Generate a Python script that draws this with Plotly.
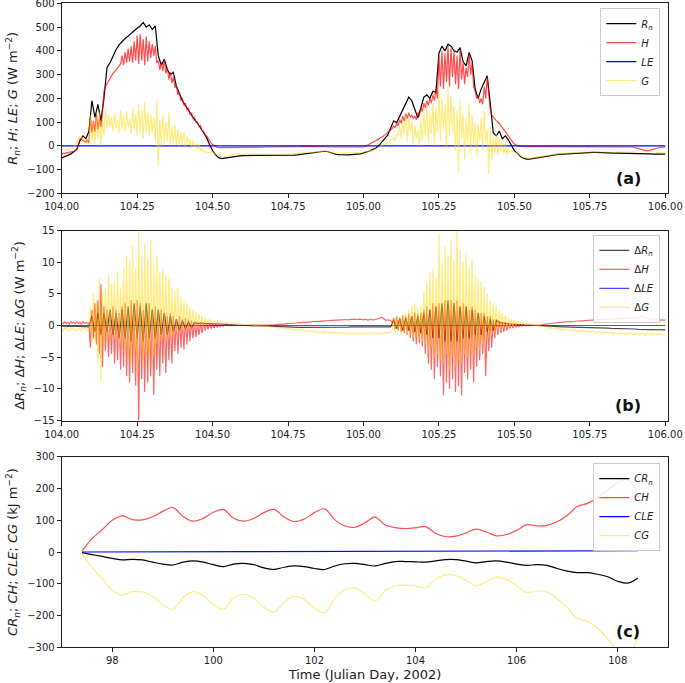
import numpy as np
import plotly.graph_objects as go

# ---------------- sampling grids ----------------
t_fine = np.round(104.0 + 0.005 * np.arange(401), 3)     # panels a/b, H, G, dH, dG
t_coarse = np.round(104.0 + 0.01 * np.arange(201), 2)    # panels a/b, Rn, dRn
t_cum = np.round(97.4 + 0.2 * np.arange(56), 1)          # panel c

# ---------------- panel (a): fluxes, W m-2 ----------------
Rn = [
    -50, -45, -40, -35, -25, -15, 20, 42, 30, 60,
    190, 120, 175, 105, 200, 330, 350, 378, 405, 425,
    440, 452, 462, 475, 485, 495, 505, 520, 500, 510,
    490, 505, 380, 340, 365, 320, 300, 310, 250, 220,
    190, 170, 150, 125, 110, 95, 75, 55, 35, 5,
    -20, -38, -50, -54, -52, -48, -45, -43, -42, -42,
    -41, -41, -40, -41, -42, -42, -41, -40, -40, -40,
    -41, -42, -42, -41, -40, -40, -40, -39, -38, -36,
    -34, -32, -30, -29, -28, -27, -25, -23, -24, -28,
    -33, -36, -37, -38, -38, -38, -37, -37, -36, -34,
    -30, -27, -22, -16, -10, 0, 14, 30, 45, 75,
    105, 98, 125, 150, 178, 205, 190, 150, 118, 160,
    205, 215, 200, 230, 225, 390, 420, 400, 428, 420,
    400, 395, 414, 355, 337, 393, 358, 240, 200, 240,
    270, 295, 180, 55, 42, 62, 30, 42, 25, 2,
    -20, -32, -45, -52, -56, -56, -54, -50, -47, -45,
    -43, -41, -39, -37, -36, -35, -35, -34, -34, -33,
    -32, -31, -30, -29, -28, -28, -28, -28, -29, -29,
    -30, -30, -31, -31, -31, -31, -31, -32, -32, -32,
    -33, -33, -33, -34, -34, -34, -35, -35, -35, -35,
    -35,
]

H = [
    -35, -31, -34, -29, -31, -26, -28, -23, -24, -19,
    -15, 5, 28, 32, 22, 18, 14, 25, 12, 125,
    55, 105, 60, 135, 70, 115, 80, 145, 230, 250,
    262, 275, 285, 295, 305, 312, 320, 330, 335, 345,
    380, 340, 395, 350, 410, 355, 420, 350, 440, 360,
    465, 345, 470, 360, 450, 340, 460, 355, 440, 370,
    430, 380, 420, 350, 360, 320, 350, 315, 365, 305,
    330, 280, 310, 265, 290, 245, 255, 215, 225, 190,
    200, 170, 180, 150, 160, 130, 140, 115, 120, 100,
    100, 82, 85, 65, 62, 48, 42, 30, 20, 12,
    5, 0, -4, -6, -8, -8, -9, -9, -8, -8,
    -8, -7, -7, -8, -7, -7, -6, -7, -7, -7,
    -7, -7, -6, -6, -7, -7, -6, -6, -6, -7,
    -7, -6, -6, -6, -6, -5, -5, -6, -6, -6,
    -6, -6, -5, -5, -5, -5, -5, -5, -6, -6,
    -5, -5, -4, -4, -4, -3, -3, -3, -3, -2,
    -2, -2, -2, -1, -1, -1, -1, -1, -2, -2,
    -2, -3, -3, -4, -4, -4, -5, -5, -5, -5,
    -6, -6, -6, -6, -7, -7, -7, -6, -6, -6,
    -6, -6, -5, -5, -5, -5, -4, -4, -4, -5,
    -5, -3, 0, 3, 6, 9, 13, 17, 21, 25,
    28, 32, 36, 40, 45, 50, 55, 60, 66, 72,
    85, 75, 95, 85, 110, 95, 125, 105, 135, 115,
    140, 120, 130, 115, 125, 110, 140, 125, 160, 145,
    180, 160, 190, 170, 200, 180, 215, 190, 240, 200,
    380, 250, 400, 240, 390, 270, 420, 250, 410, 290,
    400, 260, 380, 240, 405, 280, 350, 260, 330, 290,
    390, 300, 350, 250, 230, 200, 210, 180, 200, 175,
    250, 200, 290, 230, 150, 130, 120, 110, 105, 100,
    95, 85, 78, 70, 60, 50, 40, 30, 22, 15,
    8, 3, 0, -2, -3, -3, -4, -4, -4, -3,
    -3, -3, -3, -2, -2, -3, -3, -3, -2, -2,
    -2, -2, -3, -3, -3, -2, -2, -2, -3, -3,
    -3, -3, -2, -2, -2, -3, -3, -3, -3, -2,
    -2, -2, -2, -3, -3, -3, -3, -2, -2, -2,
    -2, -3, -3, -3, -3, -2, -2, -2, -3, -3,
    -3, -3, -3, -3, -3, -4, -4, -4, -4, -4,
    -4, -4, -4, -4, -4, -5, -5, -5, -5, -6,
    -7, -9, -11, -13, -15, -17, -19, -20, -21, -20,
    -18, -16, -14, -12, -10, -8, -7, -6, -6, -5,
    -5,
]

LE_t = [104.0, 104.5, 105.0, 105.5, 106.0]
LE = [0, 0, 0, 0, 0]

G = [
    -18, -15, -20, -14, -18, -12, -10, -12, -5, 0,
    10, 30, 40, 38, 25, 30, 12, 20, 5, 130,
    20, 100, 10, 120, 30, 140, 0, 110, 40, 150,
    70, 135, 80, 120, 60, 140, 75, 110, 55, 150,
    70, 125, 60, 145, 80, 115, 50, 160, 70, 135,
    40, 175, 60, 150, 30, 185, 55, 140, 45, 130,
    60, 120, 20, 190, -85, 110, 0, 130, 10, 100,
    20, 140, 0, 80, 10, 90, 5, 70, 0, 60,
    10, 55, -5, 40, 5, 30, -10, 25, -5, 10,
    -15, 5, -20, -10, -25, -22, -28, -28, -30, -28,
    -25, -30, -34, -38, -42, -45, -46, -46, -45, -44,
    -41, -39, -37, -36, -36, -35, -35, -35, -35, -35,
    -34, -34, -34, -34, -34, -35, -35, -35, -36, -36,
    -36, -35, -35, -34, -34, -34, -34, -34, -34, -35,
    -35, -36, -36, -37, -37, -36, -36, -35, -35, -35,
    -35, -35, -34, -34, -33, -33, -32, -31, -30, -30,
    -29, -28, -28, -28, -27, -27, -27, -26, -25, -24,
    -23, -22, -21, -21, -22, -23, -25, -27, -29, -30,
    -30, -31, -31, -31, -31, -31, -32, -32, -32, -32,
    -32, -32, -32, -32, -31, -31, -31, -30, -30, -29,
    -27, -26, -25, -24, -23, -21, -19, -17, -14, -11,
    -8, -5, 0, 3, 6, 10, 14, 20, 25, 30,
    35, 20, 55, 40, 80, 30, 110, 50, 130, 20,
    120, 60, 100, 10, 90, 30, 70, 0, 110, 20,
    150, 40, 170, 10, 140, 50, 180, 0, 160, 60,
    230, 20, 200, 70, 180, -10, 240, 40, 210, 60,
    170, -20, 150, -110, 190, 30, 140, -60, 120, 10,
    180, -30, 130, 0, 100, -40, 90, 20, 120, -20,
    150, 10, 70, -120, 80, -60, 40, -30, 50, -40,
    30, -20, 20, -35, 10, -38, -10, -30, -20, -24,
    -28, -30, -32, -37, -42, -46, -49, -50, -52, -52,
    -53, -52, -51, -50, -48, -46, -45, -44, -43, -42,
    -41, -40, -39, -37, -36, -35, -34, -34, -33, -33,
    -32, -32, -32, -31, -31, -31, -31, -30, -30, -30,
    -30, -29, -29, -28, -28, -27, -26, -26, -25, -25,
    -25, -25, -25, -25, -25, -25, -26, -26, -26, -26,
    -27, -27, -27, -28, -28, -28, -27, -27, -27, -27,
    -27, -27, -27, -27, -27, -28, -28, -28, -28, -28,
    -28, -27, -27, -26, -26, -25, -25, -24, -24, -24,
    -25, -25, -26, -26, -27, -28, -28, -29, -29, -30,
    -30,
]

# ---------------- panel (b): differences, W m-2 ----------------
dRn = [
    -0.1, -0.15, -0.1, -0.15, -0.1, -0.1, -0.15, -0.1, -0.1, -0.2,
    1.5, -1.0, 2.0, -1.5, 2.0, -1.0, 2.5, -1.5, 2.0, -2.0,
    2.5, -2.0, 3.0, -2.5, 3.5, -2.0, 3.0, -2.5, 3.5, -2.0,
    2.5, -2.0, 2.5, -1.5, 2.0, -1.5, 1.5, -1.0, 1.0, -0.8,
    0.8, -0.5, 0.6, -0.4, 0.5, 0.3, 0.4, 0.3, 0.3, 0.3,
    0.3, 0.3, 0.25, 0.2, 0.2, 0.15, 0.1, 0.1, 0.05, 0.0,
    0.0, 0.0, 0.0, 0.0, 0.0, -0.05, -0.05, -0.1, -0.1, -0.1,
    -0.15, -0.15, -0.2, -0.2, -0.2, -0.25, -0.25, -0.25, -0.3, -0.3,
    -0.3, -0.3, -0.3, -0.3, -0.35, -0.35, -0.3, -0.3, -0.3, -0.3,
    -0.3, -0.3, -0.3, -0.25, -0.25, -0.25, -0.2, -0.2, -0.2, -0.2,
    -0.2, -0.2, -0.2, -0.15, -0.15, -0.15, -0.1, -0.1, -0.1, -0.2,
    0.8, -0.5, 1.0, -0.8, 1.2, -0.8, 1.5, -1.0, 1.5, -1.2,
    2.0, -1.5, 2.5, -2.0, 3.0, -2.0, 3.5, -2.5, 4.0, -2.5,
    3.5, -2.5, 3.0, -2.0, 3.0, -2.0, 2.5, -1.5, 2.0, -1.5,
    1.5, -1.0, 1.0, -0.8, 0.8, 0.5, 0.4, 0.3, 0.3, 0.2,
    0.2, 0.15, 0.1, 0.1, 0.05, 0.0, 0.0, 0.0, -0.05, -0.05,
    -0.1, -0.1, -0.1, -0.15, -0.15, -0.2, -0.2, -0.2, -0.25, -0.25,
    -0.25, -0.3, -0.3, -0.3, -0.3, -0.35, -0.35, -0.35, -0.4, -0.4,
    -0.4, -0.4, -0.45, -0.45, -0.45, -0.5, -0.5, -0.5, -0.5, -0.55,
    -0.55, -0.6, -0.6, -0.6, -0.6, -0.65, -0.65, -0.7, -0.7, -0.7,
    -0.7,
]

dH = [
    0.5, 0.3, 0.6, 0.3, 0.5, 0.2, 0.6, 0.4, 0.5, 0.3,
    0.6, 0.3, 0.5, 0.2, 0.6, 0.4, 0.5, 0.3, 0.4, -3.5,
    2.5, -2.0, 3.5, -3.0, 4.0, -4.5, 6.5, -6.5, 3.0, -4.0,
    2.5, -5.0, 2.0, -4.5, 3.0, -6.0, 2.5, -5.5, 2.0, -7.0,
    3.0, -6.5, 3.5, -8.0, 2.5, -9.0, 4.0, -7.5, 3.0, -9.5,
    4.0, -15.0, 3.5, -8.5, 2.5, -10.5, 3.0, -9.0, 3.5, -8.0,
    2.5, -11.0, 3.0, -7.0, 2.0, -8.0, 2.5, -6.0, 2.0, -7.5,
    1.5, -5.5, 2.0, -6.0, 1.5, -4.0, 1.0, -4.5, 1.5, -3.5,
    1.0, -3.8, 1.2, -3.0, 1.0, -2.5, 0.8, -2.0, 0.6, -1.8,
    0.5, -1.5, 0.5, -1.2, 0.4, -0.8, 0.3, -0.6, 0.3, -0.5,
    0.2, -0.4, 0.2, -0.3, 0.1, -0.2, 0.1, -0.1, 0.1, 0.0,
    0.1, 0.0, 0.1, 0.0, 0.0, 0.0, 0.0, 0.0, 0.0, 0.0,
    0.0, 0.0, 0.0, 0.0, 0.0, 0.0, 0.0, 0.0, 0.0, 0.0,
    0.0, 0.0, 0.0, 0.0, 0.0, 0.0, 0.0, 0.05, 0.05, 0.1,
    0.1, 0.1, 0.15, 0.15, 0.2, 0.2, 0.2, 0.25, 0.25, 0.3,
    0.3, 0.3, 0.35, 0.35, 0.4, 0.35, 0.4, 0.45, 0.4, 0.45,
    0.5, 0.45, 0.5, 0.55, 0.5, 0.55, 0.6, 0.55, 0.6, 0.65,
    0.6, 0.65, 0.7, 0.65, 0.7, 0.75, 0.7, 0.75, 0.8, 0.75,
    0.8, 0.85, 0.8, 0.85, 0.9, 0.85, 0.9, 0.95, 0.9, 0.95,
    0.9, 0.95, 1.0, 0.95, 1.0, 0.95, 1.0, 1.05, 1.0, 0.95,
    0.9, 1.0, 0.9, 0.85, 0.95, 0.9, 0.85, 0.9, 0.95, 1.0,
    1.1, 1.2, 1.3, 1.1, 0.9, 0.8, 0.9, 0.85, 0.8, 0.5,
    1.2, -0.5, 1.5, -0.8, 1.3, -1.0, 1.6, -1.2, 1.5, -1.5,
    1.8, -2.0, 1.5, -2.5, 2.0, -3.0, 1.8, -2.8, 2.0, -3.3,
    2.5, -4.5, 3.0, -6.0, 2.5, -7.0, 3.5, -8.5, 3.0, -6.5,
    3.5, -8.0, 3.0, -11.0, 4.0, -9.0, 3.5, -10.0, 4.0, -8.5,
    3.5, -10.5, 4.0, -9.5, 3.0, -11.0, 3.5, -7.5, 3.0, -8.5,
    2.5, -7.0, 3.0, -9.0, 2.5, -6.5, 2.0, -5.5, 2.0, -4.5,
    2.0, -8.0, 1.5, -4.0, 1.5, -3.5, 1.0, -2.0, 1.0, -1.5,
    0.8, -1.2, 0.6, -1.0, 0.5, -0.8, 0.4, -0.5, 0.3, -0.4,
    0.3, -0.3, 0.2, -0.2, 0.1, -0.1, 0.1, 0.0, 0.0, 0.0,
    0.0, 0.0, 0.0, 0.0, 0.0, 0.0, 0.05, 0.1, 0.1, 0.15,
    0.2, 0.2, 0.25, 0.3, 0.3, 0.35, 0.4, 0.4, 0.45, 0.45,
    0.5, 0.5, 0.55, 0.55, 0.6, 0.55, 0.6, 0.65, 0.6, 0.65,
    0.7, 0.65, 0.7, 0.75, 0.7, 0.75, 0.8, 0.75, 0.8, 0.8,
    0.85, 0.8, 0.85, 0.9, 0.85, 0.9, 0.95, 0.9, 0.95, 1.0,
    0.95, 1.0, 1.05, 1.0, 1.05, 1.1, 1.0, 1.05, 1.1, 1.05,
    1.1, 1.15, 1.1, 1.15, 1.2, 1.15, 1.2, 1.25, 1.2, 1.3,
    1.25, 1.3, 1.2, 1.25, 1.5, 1.3, 1.2, 1.15, 1.1, 1.05,
    1.0, 1.0, 0.95, 0.95, 0.9, 0.9, 0.9, 0.85, 0.85, 0.85,
    0.85,
]

dLE_t = [104.0, 104.5, 105.0, 105.5, 106.0]
dLE = [0, 0, 0, 0, 0]

dG = [
    -0.5, -0.8, -0.3, -0.7, -0.4, -0.9, -0.5, -0.6, -0.3, -0.8,
    -0.5, -0.7, -0.4, -0.9, -0.5, -0.6, -0.4, -0.8, -0.5, 3.0,
    -3.0, 5.0, -2.5, 4.0, -6.0, 7.5, -9.0, 5.5, -3.0, 6.0,
    -2.0, 8.0, -2.5, 6.5, -1.5, 7.0, -2.0, 8.5, -3.0, 6.0,
    -3.5, 9.0, -4.0, 11.0, -5.5, 10.5, -6.0, 12.5, -5.0, 9.0,
    -7.5, 15.5, -4.0, 11.0, -6.5, 13.0, -5.0, 10.5, -7.0, 13.5,
    -4.5, 9.5, -5.0, 11.0, -3.0, 8.5, -2.5, 9.0, -2.0, 8.0,
    -2.5, 7.5, -2.0, 6.0, -1.5, 5.5, -1.0, 6.0, -1.0, 4.5,
    -0.8, 4.0, -0.6, 3.5, -0.5, 3.0, -0.4, 2.5, -0.3, 2.2,
    -0.2, 1.8, 0.0, 1.5, 0.0, 1.2, 0.1, 1.0, 0.2, 0.9,
    0.3, 0.8, 0.3, 0.7, 0.3, 0.7, 0.3, 0.6, 0.3, 0.5,
    0.4, 0.5, 0.3, 0.4, 0.3, 0.4, 0.2, 0.3, 0.2, 0.3,
    0.2, 0.2, 0.1, 0.2, 0.1, 0.1, 0.1, 0.1, 0.0, 0.1,
    0.0, 0.0, 0.0, 0.0, 0.0, -0.1, -0.1, -0.1, -0.2, -0.2,
    -0.2, -0.3, -0.3, -0.4, -0.3, -0.4, -0.5, -0.4, -0.5, -0.5,
    -0.6, -0.5, -0.6, -0.7, -0.6, -0.7, -0.6, -0.8, -0.7, -0.8,
    -0.7, -0.9, -0.8, -0.9, -0.8, -1.0, -0.9, -1.0, -0.8, -1.1,
    -0.9, -1.1, -1.0, -1.2, -0.9, -1.1, -1.0, -1.2, -1.1, -1.3,
    -1.0, -1.2, -1.1, -1.3, -1.0, -1.2, -1.1, -1.4, -1.2, -1.3,
    -1.1, -1.4, -1.2, -1.3, -1.1, -1.4, -1.2, -1.3, -1.2, -1.4,
    -1.1, -1.3, -1.2, -1.4, -1.1, -1.3, -1.2, -1.4, -1.1, -1.3,
    -1.2, -1.4, -1.1, -1.3, -1.0, -1.2, -1.1, -1.3, -1.0, -0.8,
    0.8, -1.2, 1.5, -0.8, 1.2, -1.5, 1.8, -1.0, 2.0, -1.6,
    2.5, -1.5, 3.0, -2.0, 3.5, -1.8, 3.0, -2.2, 3.3, -2.5,
    5.5, -3.0, 7.0, -4.0, 8.5, -3.5, 9.0, -5.0, 7.5, -4.5,
    14.5, -5.5, 10.0, -6.0, 12.5, -4.5, 11.0, -7.0, 13.5, -5.0,
    10.5, -6.5, 15.5, -5.5, 12.0, -6.0, 10.0, -4.5, 11.5, -5.0,
    9.0, -4.0, 10.5, -5.0, 8.0, -3.5, 7.5, -4.0, 7.0, -3.0,
    6.0, -2.5, 5.0, -2.0, 4.0, -1.5, 3.5, -1.0, 3.0, -0.8,
    2.5, -0.6, 2.0, -0.5, 1.6, -0.4, 1.3, -0.3, 1.0, -0.2,
    0.9, 0.0, 0.8, 0.1, 0.6, 0.1, 0.5, 0.1, 0.4, 0.1,
    0.3, 0.1, 0.2, 0.0, 0.1, 0.0, 0.0, -0.1, -0.1, -0.2,
    -0.2, -0.3, -0.2, -0.4, -0.3, -0.5, -0.4, -0.5, -0.4, -0.6,
    -0.5, -0.7, -0.5, -0.8, -0.6, -0.7, -0.6, -0.9, -0.7, -0.8,
    -0.7, -0.9, -0.8, -1.0, -0.7, -0.9, -0.8, -1.1, -0.8, -1.0,
    -0.9, -1.1, -0.9, -1.2, -1.0, -1.1, -0.9, -1.2, -1.0, -1.3,
    -1.0, -1.2, -1.1, -1.3, -1.0, -1.4, -1.1, -1.3, -1.2, -1.4,
    -1.1, -1.3, -1.2, -1.5, -1.1, -1.4, -1.2, -1.3, -1.2, -1.5,
    -1.2, -1.4, -1.3, -1.5, -1.2, -1.4, -1.3, -1.6, -1.2, -1.4,
    -1.3, -1.5, -1.2, -1.4, -1.3, -1.5, -1.2, -1.4, -1.3, -1.5,
    -1.3,
]

# ---------------- panel (c): cumulative, kJ m-2 ----------------
CRn = [-2, -8, -14, -20, -25, -23, -25, -32, -38, -41,
       -32, -28, -32, -40, -46, -38, -36, -40, -50, -55,
       -48, -44, -46, -52, -55, -44, -37, -36, -40, -44,
       -36, -30, -30, -31, -32, -28, -24, -24, -29, -34,
       -30, -28, -32, -38, -42, -40, -42, -52, -60, -65,
       -65, -70, -78, -92, -98, -82]
CH = [3, 42, 70, 100, 114, 102, 101, 111, 128, 140,
      112, 97, 106, 125, 134, 106, 97, 106, 124, 134,
      110, 96, 104, 124, 136, 102, 82, 78, 92, 110,
      85, 77, 74, 76, 80, 58, 48, 50, 60, 72,
      63, 51, 55, 68, 86, 82, 84, 95, 115, 143,
      153, 170, 196, 218, 228, 182]
CLE_t = [97.4, 100.0, 103.0, 106.0, 108.4]
CLE = [0, 1, 2, 3, 4]
CG = [-5, -50, -84, -120, -136, -125, -126, -140, -166, -181,
      -144, -125, -138, -165, -180, -144, -133, -146, -174, -189,
      -158, -140, -150, -176, -191, -146, -119, -114, -132, -154,
      -121, -107, -104, -107, -112, -86, -72, -74, -89, -106,
      -93, -79, -87, -106, -128, -122, -126, -147, -175, -208,
      -218, -240, -274, -310, -326, -264]

# ---------------- styling ----------------
FONT = "DejaVu Sans"
C_K = "#000000"
C_R = "rgba(255,0,0,0.7)"
C_B = "#0000ff"
C_Y = "rgba(255,215,0,0.5)"
C_K2 = "rgba(0,0,0,0.7)"
C_R2 = "rgba(255,0,0,0.6)"
C_B2 = "rgba(0,0,255,0.7)"
LW = 1.2

fig = go.Figure()

def add(x, y, name, color, xa, ya, legend, shape="linear"):
    fig.add_trace(go.Scatter(x=x, y=y, mode="lines", name=name,
                             line=dict(color=color, width=LW, shape=shape),
                             xaxis=xa, yaxis=ya, legend=legend))

add(t_coarse, Rn, "<i>R<sub>n</sub></i>", C_K, "x", "y", "legend")
add(t_fine, H, "<i>H</i>", C_R, "x", "y", "legend")
add(LE_t, LE, "<i>LE</i>", C_B, "x", "y", "legend")
add(t_fine, G, "<i>G</i>", C_Y, "x", "y", "legend")

add(t_coarse, dRn, "Δ<i>R<sub>n</sub></i>", C_K2, "x2", "y2", "legend2")
add(t_fine, dH, "Δ<i>H</i>", C_R2, "x2", "y2", "legend2")
add(dLE_t, dLE, "Δ<i>LE</i>", C_B2, "x2", "y2", "legend2")
add(t_fine, dG, "Δ<i>G</i>", C_Y, "x2", "y2", "legend2")

add(t_cum, CRn, "<i>CR<sub>n</sub></i>", C_K, "x3", "y3", "legend3", "spline")
add(t_cum, CH, "<i>CH</i>", C_R, "x3", "y3", "legend3", "spline")
add(CLE_t, CLE, "<i>CLE</i>", C_B, "x3", "y3", "legend3")
add(t_cum, CG, "<i>CG</i>", C_Y, "x3", "y3", "legend3", "spline")

axis_common = dict(showline=True, linecolor="#222", linewidth=1, mirror=True,
                   ticks="outside", ticklen=4, tickcolor="#222", tickwidth=1,
                   showgrid=False, zeroline=False, ticklabeloverflow="allow",
                   tickfont=dict(family=FONT, size=10, color="#222"))
XD = [0.0901, 0.9756]
D_A = [0.717, 0.995]
D_B = [0.3843, 0.6625]
D_C = [0.0523, 0.3313]

def ytitle(txt):
    return dict(text=txt, font=dict(family=FONT, size=13, color="#222"), standoff=6)

fig.update_layout(
    width=685, height=683, margin=dict(l=0, r=0, t=0, b=0),
    paper_bgcolor="white", plot_bgcolor="white", template="none",
    font=dict(family=FONT, size=11, color="#222"),
    xaxis=dict(domain=XD, anchor="y", range=[104, 106.01], tick0=104, dtick=0.25,
               tickformat=".2f", **axis_common),
    yaxis=dict(domain=D_A, anchor="x", range=[-200, 600], dtick=100,
               title=ytitle("<i>R<sub>n</sub></i>; <i>H</i>; <i>LE</i>; <i>G</i> (W m<sup>−2</sup>)"),
               **axis_common),
    xaxis2=dict(domain=XD, anchor="y2", range=[104, 106.01], tick0=104, dtick=0.25,
                tickformat=".2f", **axis_common),
    yaxis2=dict(domain=D_B, anchor="x2", range=[-15, 15], dtick=5,
                title=ytitle("Δ<i>R<sub>n</sub></i>; Δ<i>H</i>; Δ<i>LE</i>; Δ<i>G</i> (W m<sup>−2</sup>)"),
                **axis_common),
    xaxis3=dict(domain=XD, anchor="y3", range=[97, 109], tick0=98, dtick=2,
                title=dict(text="Time (Julian Day, 2002)", font=dict(family=FONT, size=13, color="#222"),
                           standoff=4),
                **axis_common),
    yaxis3=dict(domain=D_C, anchor="x3", range=[-300, 300], dtick=100,
                title=ytitle("<i>CR<sub>n</sub></i>; <i>CH</i>; <i>CLE</i>; <i>CG</i> (kJ m<sup>−2</sup>)"),
                **axis_common),
)

leg_common = dict(xanchor="right", yanchor="top", bgcolor="rgba(255,255,255,0.85)",
                  bordercolor="#cccccc", borderwidth=1,
                  font=dict(family=FONT, size=10, color="#222"),
                  itemwidth=30, tracegroupgap=0)
fig.update_layout(
    legend=dict(x=0.964, y=0.988, **leg_common),
    legend2=dict(x=0.964, y=0.656, **leg_common),
    legend3=dict(x=0.964, y=0.322, **leg_common),
    showlegend=True,
)

for txt, yy in [("(a)", 0.738), ("(b)", 0.407), ("(c)", 0.075)]:
    fig.add_annotation(text="<b>%s</b>" % txt, x=0.917, y=yy, xref="paper", yref="paper",
                       showarrow=False, xanchor="center", yanchor="middle",
                       font=dict(family=FONT, size=16, color="#111"))

fig.write_html("out.html", config={"displayModeBar": False},
               post_script="document.body.style.margin='0';document.body.style.overflow='hidden';")
